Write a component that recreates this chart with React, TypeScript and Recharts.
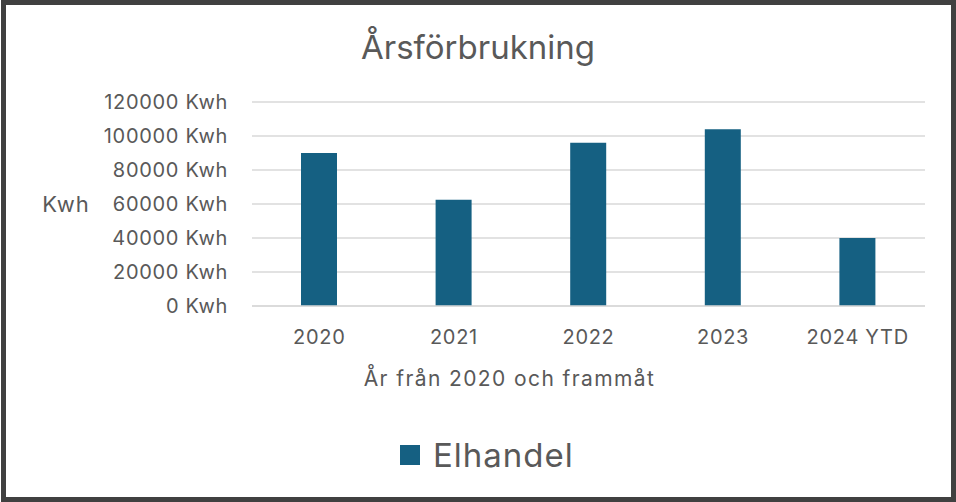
import React from 'react';
import { BarChart, Bar, XAxis, YAxis, CartesianGrid, Legend } from 'recharts';

const categories = ['2020', '2021', '2022', '2023', '2024 YTD'];
const elhandel = [90000, 62500, 96000, 104000, 40000];
const yTicks = [0, 20000, 40000, 60000, 80000, 100000, 120000];
const seriesName = 'Elhandel';
const titleText = 'Årsförbrukning';
const xTitle = 'År från 2020 och frammåt';
const yTitle = 'Kwh';

const data = categories.map((c, i) => ({ year: c, [seriesName]: elhandel[i] }));

const FONT = 'Inter, "Open Sans", sans-serif';
const TEXT = '#595959';
const BAR = '#156082';

const XTick = (props: any) => {
  const { x, y, payload } = props;
  return (
    <text x={x} y={y + 38} textAnchor="middle" fill={TEXT} fontSize={20} fontFamily={FONT} style={{ letterSpacing: '0.7px' }}>
      {payload.value}
    </text>
  );
};

const YTick = (props: any) => {
  const { x, y, payload } = props;
  return (
    <text x={x - 24} y={y} dy="0.35em" textAnchor="end" fill={TEXT} fontSize={20} fontFamily={FONT} style={{ letterSpacing: '0.7px' }}>
      {`${payload.value} Kwh`}
    </text>
  );
};

const XLabel = (props: any) => {
  const vb = props.viewBox || {};
  return (
    <text x={vb.x + vb.width / 2 - 79} y={vb.y + 80} textAnchor="middle" fill={TEXT} fontSize={21} fontFamily={FONT} style={{ letterSpacing: '1.4px' }}>
      {xTitle}
    </text>
  );
};

const YLabel = (props: any) => {
  const vb = props.viewBox || {};
  return (
    <text x={66} y={vb.y + vb.height / 2} dy="0.35em" textAnchor="middle" fill={TEXT} fontSize={22} fontFamily={FONT} style={{ letterSpacing: '1px' }}>
      {yTitle}
    </text>
  );
};

const LegendContent = (props: any) => {
  const payload = props.payload || [];
  return (
    <div style={{ display: 'flex', alignItems: 'center' }}>
      {payload.map((p: any) => (
        <div key={p.value} style={{ display: 'flex', alignItems: 'center' }}>
          <div style={{ width: 20, height: 20, background: p.color, marginRight: 13 }} />
          <span style={{ fontFamily: FONT, fontSize: 33, color: TEXT, lineHeight: '40px', letterSpacing: '1px' }}>{p.value}</span>
        </div>
      ))}
    </div>
  );
};

export default function App() {
  return (
    <div style={{ position: 'absolute', left: 0, top: 0, width: 956, height: 502, background: '#fff' }}>
      <BarChart
        width={956}
        height={502}
        data={data}
        margin={{ top: 102, right: 31, bottom: 166, left: 0 }}
      >
        <CartesianGrid horizontal vertical={false} stroke="#d9d9d9" strokeWidth={1.5} />
        <XAxis
          dataKey="year"
          height={30}
          axisLine={{ stroke: '#d9d9d9', strokeWidth: 1.5 }}
          tickLine={false}
          tickSize={0}
          tickMargin={0}
          tick={<XTick />}
          interval={0}
          label={<XLabel />}
        />
        <YAxis
          width={252}
          domain={[0, 120000]}
          ticks={yTicks}
          axisLine={false}
          tickLine={false}
          tickSize={0}
          tickMargin={0}
          tick={<YTick />}
          interval={0}
          label={<YLabel />}
        />
        <Legend
          layout="horizontal"
          verticalAlign="middle"
          align="center"
          wrapperStyle={{ top: 435, left: 400, width: 300 }}
          content={<LegendContent />}
        />
        <Bar dataKey={seriesName} fill={BAR} barSize={36} isAnimationActive={false} />
      </BarChart>
      <div
        style={{
          position: 'absolute',
          left: 0,
          top: 27,
          width: 956,
          textAlign: 'center',
          fontFamily: FONT,
          fontSize: 33,
          color: TEXT,
          lineHeight: '40px',
        }}
      >
        {titleText}
      </div>
      <div
        style={{
          position: 'absolute',
          left: 1,
          top: 0,
          width: 955,
          height: 502,
          boxSizing: 'border-box',
          border: '5px solid #404040',
          pointerEvents: 'none',
        }}
      />
    </div>
  );
}
